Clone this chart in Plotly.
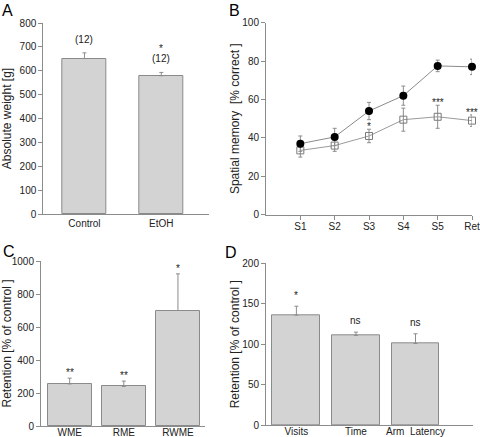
import plotly.graph_objects as go

# ---------------- data ----------------
a_cats = ["Control", "EtOH"]
a_vals = [651, 579]
a_err = [24, 14]
a_n = ["(12)", "(12)"]
a_sig = ["", "*"]

b_sessions = ["S1", "S2", "S3", "S4", "S5", "Ret"]
b_ctrl = [37, 40.5, 54, 62, 77.5, 77]
b_ctrl_err = [4, 4.5, 4.5, 5, 3, 4]
b_etoh = [33.5, 36, 41, 49.5, 51, 49]
b_etoh_err = [3.5, 3, 3.5, 6, 6, 3]
b_sig = ["", "", "*", "", "***", "***"]

c_cats = ["WME", "RME", "RWME"]
c_vals = [255, 240, 700]
c_err = [35, 32, 222]
c_sig = ["**", "**", "*"]

d_cats = ["Visits", "Time", "Arm  Latency"]
d_vals = [136, 111, 101]
d_err = [11, 4, 12]
d_sig = ["*", "ns", "ns"]

# ---------------- style ----------------
W, H = 480, 437
FONT = "Arial, Liberation Sans, Helvetica, sans-serif"
TXT = "#222222"
AX = "#8c8c8c"
BAR = "#d3d3d3"
BAR_LINE = "#8a8a8a"


def px_x(a, b):
    return [a / W, b / W]


def px_y(top, bottom):
    return [1 - bottom / H, 1 - top / H]


fig = go.Figure()


def bar_trace(cats, vals, errs, xa, ya, width):
    return go.Bar(
        x=list(range(len(cats))), y=vals, width=width,
        marker=dict(color=BAR, line=dict(color=BAR_LINE, width=1)),
        error_y=dict(type="data", symmetric=False, array=errs,
                     arrayminus=[0] * len(errs), color=AX, thickness=1, width=2),
        xaxis=xa, yaxis=ya, showlegend=False, hoverinfo="skip",
    )


fig.add_trace(bar_trace(a_cats, a_vals, a_err, "x", "y", 0.573))
fig.add_trace(bar_trace(c_cats, c_vals, c_err, "x3", "y3", 0.81))
fig.add_trace(bar_trace(d_cats, d_vals, d_err, "x4", "y4", 0.805))

b_x = list(range(1, len(b_sessions) + 1))
fig.add_trace(go.Scatter(
    x=b_x, y=b_etoh, mode="lines+markers", xaxis="x2", yaxis="y2",
    line=dict(color="#9a9a9a", width=1),
    marker=dict(symbol="square-open", size=7, color="#7a7a7a", line=dict(width=1)),
    error_y=dict(type="data", array=b_etoh_err, color=AX, thickness=1, width=2),
    showlegend=False, hoverinfo="skip", cliponaxis=False,
))
fig.add_trace(go.Scatter(
    x=b_x, y=b_ctrl, mode="lines+markers", xaxis="x2", yaxis="y2",
    line=dict(color="#8a8a8a", width=1),
    marker=dict(symbol="circle", size=8, color="black"),
    error_y=dict(type="data", array=b_ctrl_err, color=AX, thickness=1, width=2),
    showlegend=False, hoverinfo="skip", cliponaxis=False,
))

common_axis = dict(
    showline=True, linecolor=AX, linewidth=1, ticks="outside", ticklen=4,
    tickcolor=AX, showgrid=False, zeroline=False, automargin=False,
    tickfont=dict(family=FONT, size=10, color=TXT), fixedrange=True,
    ticklabeloverflow="allow",
)


def xaxis(domain, rng, cats, anchor, standoff, tickvals=None, ticks="outside"):
    d = dict(common_axis)
    d.update(domain=domain, range=rng, anchor=anchor, ticks=ticks,
             tickmode="array",
             tickvals=tickvals if tickvals is not None else list(range(len(cats))),
             ticktext=cats, ticklabelstandoff=standoff)
    return d


def yaxis(domain, rng, dtick, title, anchor, standoff):
    d = dict(common_axis)
    d.update(domain=domain, range=rng, dtick=dtick, anchor=anchor,
             title=dict(text=title, font=dict(family=FONT, size=12, color=TXT), standoff=standoff))
    return d


fig.update_layout(
    width=W, height=H, margin=dict(l=0, r=0, t=0, b=0),
    paper_bgcolor="white", plot_bgcolor="white", bargap=0,
    xaxis=xaxis(px_x(43.3, 209.3), [-0.536, 1.625], a_cats, "y", 0, ticks=""),
    yaxis=yaxis(px_y(23, 214), [0, 800], 100, "Absolute weight [g]", "x", 7),
    xaxis2=xaxis(px_x(266, 472), [0, 6], b_sessions, "y2", -2, tickvals=b_x),
    yaxis2=yaxis(px_y(22.7, 214.7), [0, 100], 20, "Spatial memory  [% correct ]", "x2", 0),
    xaxis3=xaxis(px_x(41, 205), [-0.53, 2.5], c_cats, "y3", -3, ticks=""),
    yaxis3=yaxis(px_y(261, 426), [0, 1000], 200, "Retention [% of control ]", "x3", 9),
    xaxis4=xaxis(px_x(266, 472.7), [-0.51, 2.96], d_cats, "y4", -3, ticks=""),
    yaxis4=yaxis(px_y(263.3, 425.3), [0, 200], 50, "Retention [% of control ]", "x4", 0),
)

ann = []


def add_text(text, x, y, xr, yr, shift, size=10):
    ann.append(dict(text=text, x=x, y=y, xref=xr, yref=yr, showarrow=False,
                    yanchor="bottom", yshift=shift,
                    font=dict(family=FONT, size=size, color=TXT)))


for i in range(len(a_cats)):
    top = a_vals[i] + a_err[i]
    add_text(a_n[i], i, top, "x", "y", 6)
    if a_sig[i]:
        add_text(a_sig[i], i, top, "x", "y", 16)

for i in range(len(b_sessions)):
    if b_sig[i]:
        add_text(b_sig[i], b_x[i], b_etoh[i] + b_etoh_err[i], "x2", "y2", -5)

for i in range(len(c_cats)):
    add_text(c_sig[i], i, c_vals[i] + c_err[i], "x3", "y3", -2)

for i in range(len(d_cats)):
    add_text(d_sig[i], i, d_vals[i] + d_err[i], "x4", "y4", 3 if d_sig[i] == "*" else 4)

for letter, x, y in [("A", 0.0, 1.0), ("B", 227 / W, 1.0),
                     ("C", 0.5 / W, 1 - 241 / H), ("D", 223 / W, 1 - 242 / H)]:
    ann.append(dict(text=letter, x=x, y=y, xref="paper", yref="paper", showarrow=False,
                    xanchor="left", yanchor="top",
                    font=dict(family=FONT, size=16, color="black")))

fig.update_layout(annotations=ann)

fig.write_html("out.html", config={"displayModeBar": False})

# remove the default page margin so the figure sits at the window's top-left corner
with open("out.html", encoding="utf-8") as f:
    html = f.read()
html = html.replace("<head>", "<head><style>html,body{margin:0;padding:0;overflow:hidden;}</style>", 1)
with open("out.html", "w", encoding="utf-8") as f:
    f.write(html)
